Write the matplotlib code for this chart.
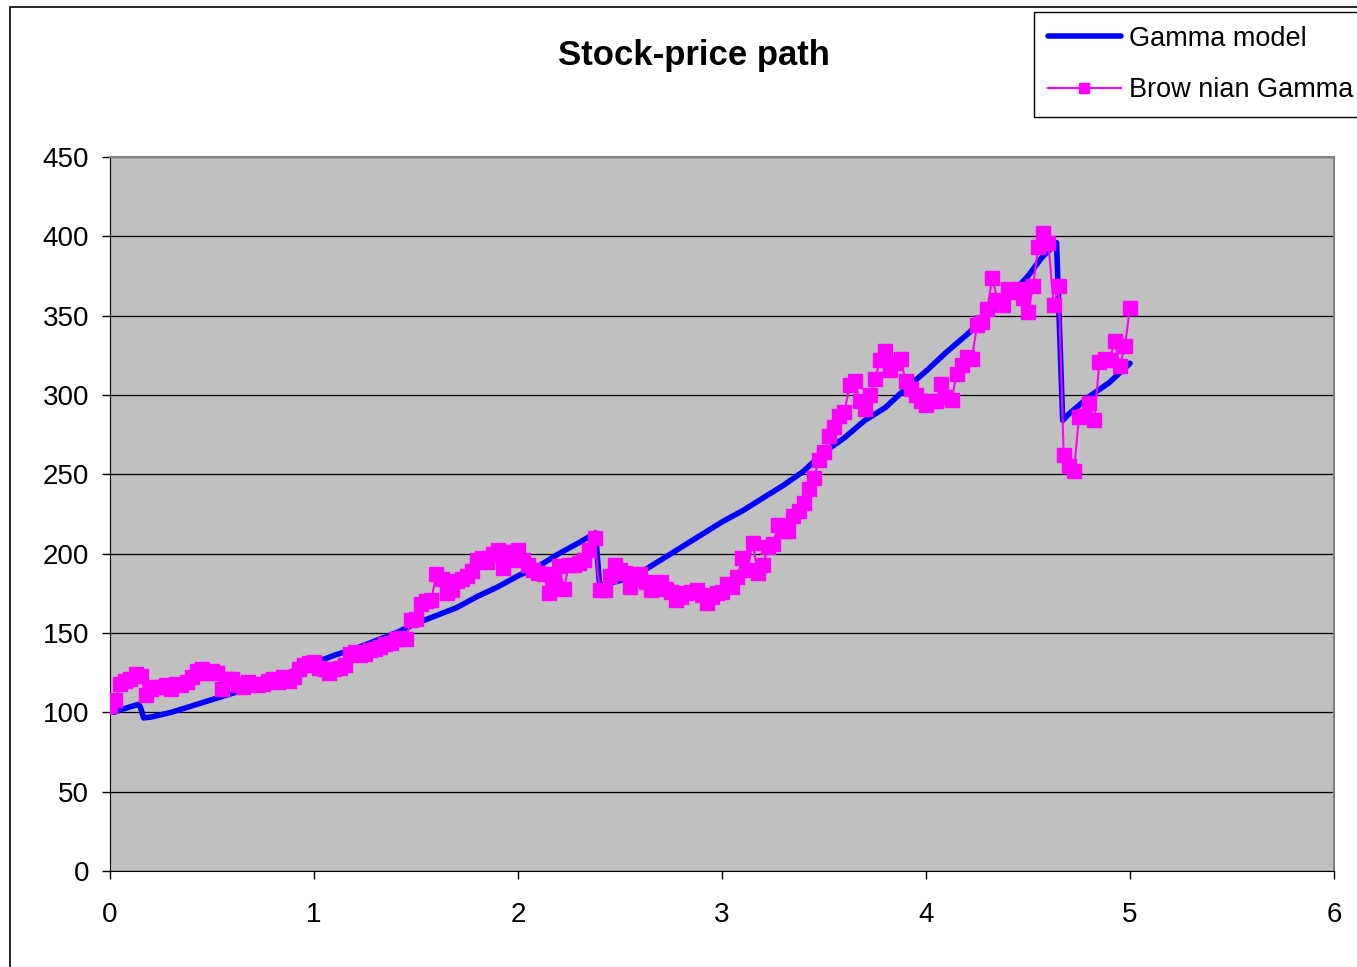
import numpy as np
import matplotlib
matplotlib.use("Agg")
import matplotlib.pyplot as plt
from matplotlib.patches import Rectangle

plt.rcParams['font.family'] = ['Liberation Sans', 'DejaVu Sans']

# Gamma model path (time, price) - drift with two downward jumps
gamma_t = [0.02, 0.05, 0.10, 0.14, 0.15, 0.165, 0.20, 0.30, 0.40, 0.50,
           0.60, 0.70, 0.80, 0.90, 1.00, 1.10, 1.20, 1.30, 1.40, 1.50,
           1.60, 1.70, 1.80, 1.90, 2.00, 2.10, 2.20, 2.30, 2.38, 2.40,
           2.50, 2.60, 2.70, 2.80, 2.90, 3.00, 3.10, 3.20, 3.30, 3.40,
           3.50, 3.60, 3.70, 3.80, 3.90, 4.00, 4.10, 4.20, 4.30, 4.40,
           4.50, 4.57, 4.64, 4.67, 4.70, 4.80, 4.90, 5.00]
gamma_price = [100, 101.5, 103.5, 105, 103, 96.5, 97, 100, 104, 108,
               112, 116, 121, 126, 131, 136, 140, 145, 150, 156,
               161, 166, 173, 179, 186, 192, 200, 207, 213, 180,
               183, 188, 196, 204, 212, 220, 227, 235, 243, 252,
               264, 273, 284, 292, 304, 315, 327, 338, 350, 361,
               375, 387, 396, 284, 288, 299, 308, 320]

# Brownian Gamma path, sampled every 0.025 from 0 to 5
bg_price = [104, 108, 118, 120, 121, 124, 123, 111, 115, 116,
            116, 117, 115, 118, 117, 119, 122, 126, 127, 125,
            126, 125, 115, 121, 121, 117, 116, 119, 118, 117,
            118, 120, 121, 119, 122, 120, 122, 127, 130, 131,
            132, 128, 127, 125, 127, 128, 130, 137, 138, 136,
            137, 139, 140, 141, 143, 144, 146, 147, 146, 158,
            159, 168, 170, 171, 187, 184, 175, 177, 183, 184,
            186, 189, 196, 197, 195, 200, 202, 191, 196, 201,
            202, 196, 193, 190, 188, 187, 175, 183, 192, 178,
            193, 193, 194, 196, 202, 210, 177, 177, 186, 193,
            190, 188, 179, 184, 187, 182, 177, 180, 182, 178,
            176, 171, 173, 175, 176, 177, 174, 169, 173, 175,
            176, 181, 179, 185, 197, 190, 207, 188, 193, 204,
            206, 218, 214, 214, 224, 227, 232, 241, 248, 259,
            264, 274, 280, 287, 289, 306, 309, 296, 291, 300,
            310, 322, 328, 316, 320, 323, 309, 304, 300, 296,
            294, 296, 296, 307, 299, 297, 313, 319, 324, 323,
            344, 346, 354, 374, 360, 357, 367, 365, 367, 361,
            352, 369, 393, 402, 396, 357, 369, 262, 255, 252,
            286, 287, 295, 284, 321, 323, 322, 334, 318, 331,
            355]
bg_t = np.linspace(0, 5, len(bg_price))

fig = plt.figure(figsize=(13.57, 9.67), dpi=100)
ax = fig.add_axes([110 / 1357, 96 / 967, 1224 / 1357, 714 / 967])
ax.set_facecolor('#C0C0C0')

ax.plot(gamma_t, gamma_price, color='#0000FF', lw=4.0, solid_joinstyle='round',
        solid_capstyle='round', label='Gamma model', zorder=3)
ax.plot(bg_t, bg_price, color='#FF00FF', lw=1.5, marker='s', ms=10.5,
        mec='#FF00FF', mfc='#FF00FF', label='Brow nian Gamma', zorder=4)

ax.set_xlim(0, 6)
ax.set_ylim(0, 450)
ax.set_xticks(range(0, 7))
ax.set_yticks(range(0, 451, 50))
ax.yaxis.grid(True, color='black', lw=0.9)
ax.set_axisbelow(True)
ax.tick_params(axis='both', labelsize=20, length=6, width=1, direction='out')
ax.tick_params(axis='y', pad=9)
ax.tick_params(axis='x', pad=16)
for side in ['left', 'bottom']:
    ax.spines[side].set_color('black')
for side in ['right', 'top']:
    ax.spines[side].set_color('#808080')
    ax.spines[side].set_linewidth(1.5)

fig.text(694 / 1357, 1 - 56 / 967, 'Stock-price path', ha='center', va='center',
         fontsize=25, fontweight='bold')

leg = fig.legend(loc='upper left', bbox_to_anchor=(1034 / 1357, 1 - 12 / 967),
                 borderaxespad=0, fontsize=19.5, handlelength=2.7, handletextpad=0.3,
                 borderpad=0.5, labelspacing=0.95, numpoints=1, markerscale=0.75,
                 fancybox=False, framealpha=1, edgecolor='black', facecolor='white')
leg.get_frame().set_linewidth(1.0)

# outer chart border
fig.patches.append(Rectangle((10 / 1357, -0.1), 2, 1 - 7 / 967 + 0.1,
                             transform=fig.transFigure, fill=False,
                             edgecolor='black', lw=1.2))

fig.savefig('out.png', dpi=100)
